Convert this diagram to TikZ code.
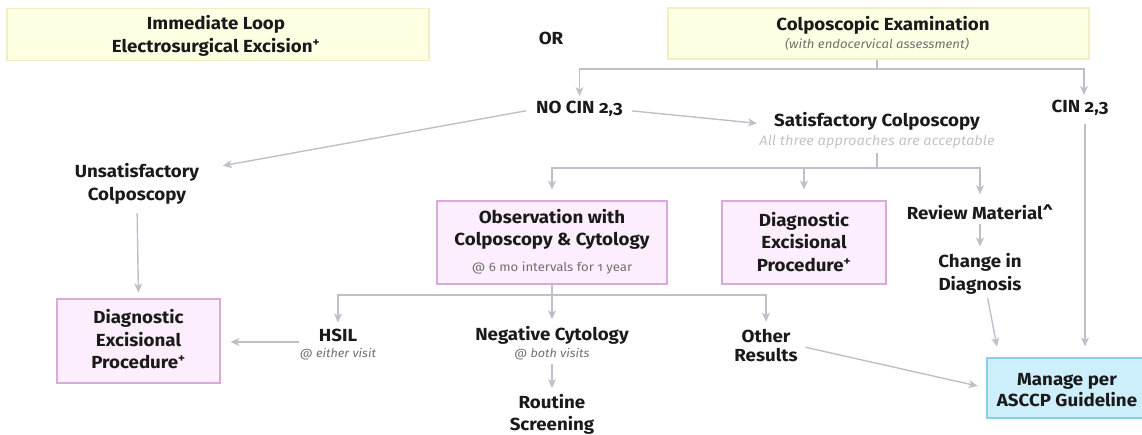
\documentclass[tikz,border=0pt]{standalone}
\usepackage{fontspec}
\setmainfont{Fira Sans}[Numbers=OldStyle, FakeStretch=1.07]
\usetikzlibrary{arrows.meta}
\definecolor{arrowc}{HTML}{BFBFCC}
\definecolor{pinkf}{HTML}{FDEEFD}
\definecolor{pinkd}{HTML}{D9A9DA}
\definecolor{yelf}{HTML}{FFFFE4}
\definecolor{yeld}{HTML}{F2EEC4}
\definecolor{bluef}{HTML}{CDEEFB}
\definecolor{blued}{HTML}{86CFEC}
\definecolor{txt}{HTML}{1A1A1A}
\definecolor{subc}{HTML}{707070}
\definecolor{lightc}{HTML}{C4C4C4}
\tikzset{
  main/.style={font=\fontsize{17.5}{22.5}\selectfont\bfseries, text=txt, align=center, inner sep=0pt},
  subi/.style={font=\fontsize{11.8}{13}\selectfont\itshape, text=subc, inner sep=0pt},
  pinkbox/.style={main, draw=pinkd, fill=pinkf, line width=1.1pt},
  yelbox/.style={main, draw=yeld, fill=yelf, line width=1.1pt},
  bluebox/.style={main, draw=blued, fill=bluef, line width=1.1pt},
  ln/.style={draw=arrowc, line width=1.4pt},
  arr/.style={ln, -{Stealth[length=9pt,width=8pt,inset=2.5pt]}},
}
\begin{document}
\begin{tikzpicture}[x=1pt,y=-1pt]
\useasboundingbox (0,0) rectangle (1142,434);
% top
\node[yelbox, minimum width=422, minimum height=52] (imm) at (218,34.5) {};
\node[main] (immt) at (216,36) {Immediate Loop\\Electrosurgical Excision\textsuperscript{+}};
\node[main] (or) at (551,38) {OR};
\node[yelbox, minimum width=421, minimum height=51] (colpo) at (878.5,33.5) {};
\node[main] (colpot) at (883,25) {Colposcopic Examination};
\node[subi, font=\fontsize{12.3}{14}\selectfont\itshape] (colpos) at (877,44) {(with endocervical assessment)};
% second level
\node[main] (nocin) at (579.5,109) {NO CIN 2,3};
\node[main] (cin) at (1080,108) {CIN 2,3};
\node[main] (sat) at (877,121) {Satisfactory Colposcopy};
\node[subi, text=lightc, font=\fontsize{13.7}{15}\selectfont\itshape] (satsub) at (877,142) {All three approaches are acceptable};
\node[main] (unsat) at (137,184) {Unsatisfactory\\Colposcopy};
% third level
\node[pinkbox, minimum width=230, minimum height=83] (obs) at (552,242.5) {};
\node[main] (obst) at (552,229.5) {Observation with\\Colposcopy \& Cytology};
\node[subi, font=\fontsize{12.3}{14}\selectfont] (obss) at (552,268) {@ 6 mo intervals for 1 year};
\node[pinkbox, minimum width=164, minimum height=83] (dmid) at (804,242.5) {};
\node[main] (dmidt) at (804,242) {Diagnostic\\Excisional\\Procedure\textsuperscript{+}};
\node[main] (review) at (980,212) {Review Material\textasciicircum};
\node[main] (change) at (980,274) {Change in\\Diagnosis};
% bottom level
\node[pinkbox, minimum width=163, minimum height=84] (ldiag) at (138.5,341) {};
\node[main] (ldiagt) at (138.5,339.5) {Diagnostic\\Excisional\\Procedure\textsuperscript{+}};
\node[main] (hsil) at (338,335) {HSIL};
\node[subi] (hsils) at (338,354) {@ either visit};
\node[main] (neg) at (552,335.5) {Negative Cytology};
\node[subi] (negs) at (552,354) {@ both visits};
\node[main] (routine) at (552,414.5) {Routine\\Screening};
\node[main, font=\fontsize{17.5}{19.5}\selectfont\bfseries] (other) at (766,345.5) {Other\\Results};
\node[bluebox, minimum width=158, minimum height=60] (manage) at (1066,388) {};
\node[main, font=\fontsize{17.5}{21}\selectfont\bfseries] (managet) at (1067,390) {Manage per\\ASCCP Guideline};
% connectors
\coordinate (j0) at (877,69);
\draw[ln] (j0 |- colpo.south) -- (j0);
\draw[arr, shorten >=5pt] (j0) -| (nocin.north);
\draw[arr, shorten >=5pt] (j0) -| ([xshift=4pt]cin.north);
\draw[arr, shorten <=10pt, shorten >=24pt] (nocin.west) -- ([yshift=14pt]unsat.east);
\draw[arr, shorten <=9pt, shorten >=17pt] ([yshift=-1pt]nocin.east) -- ([yshift=-4pt]sat.west);
\coordinate (j1) at (877,168);
\draw[ln, shorten <=4pt] (satsub.south) -- (j1);
\draw[arr, shorten >=11pt] (j1) -| (obs.north);
\draw[arr, shorten >=11pt] (j1) -| (dmid.north);
\draw[arr, shorten >=10pt] (j1) -| (review.north);
\draw[arr, shorten <=4pt, shorten >=7pt] (review.south) -- (change.north);
\draw[arr, shorten <=4pt, shorten >=11pt] ([xshift=7pt]change.south) -- ([xshift=-67pt]manage.north);
\draw[arr, shorten <=8pt, shorten >=11pt] ([xshift=5pt]cin.south) -- ([xshift=5pt]cin.south |- manage.north);
\draw[arr, shorten <=9pt, shorten >=6pt] (unsat.south) -- (ldiag.north);
\coordinate (j2) at (552,295);
\draw[ln] (obs.south) -- (j2);
\draw[arr, shorten >=6pt] (j2) -| (hsil.north);
\draw[arr, shorten >=7pt] (j2) -- (neg.north);
\draw[arr, shorten >=7pt] (j2) -| (other.north);
\draw[arr, shorten <=20pt, shorten >=10pt] ([yshift=-7pt]hsil.west) -- ([yshift=-7pt]hsil.west -| ldiag.east);
\draw[arr, shorten <=4pt, shorten >=6pt] (negs.south) -- (routine.north);
\draw[arr, shorten <=8pt, shorten >=9pt] (other.east) -- (manage.west);
\end{tikzpicture}
\end{document}
